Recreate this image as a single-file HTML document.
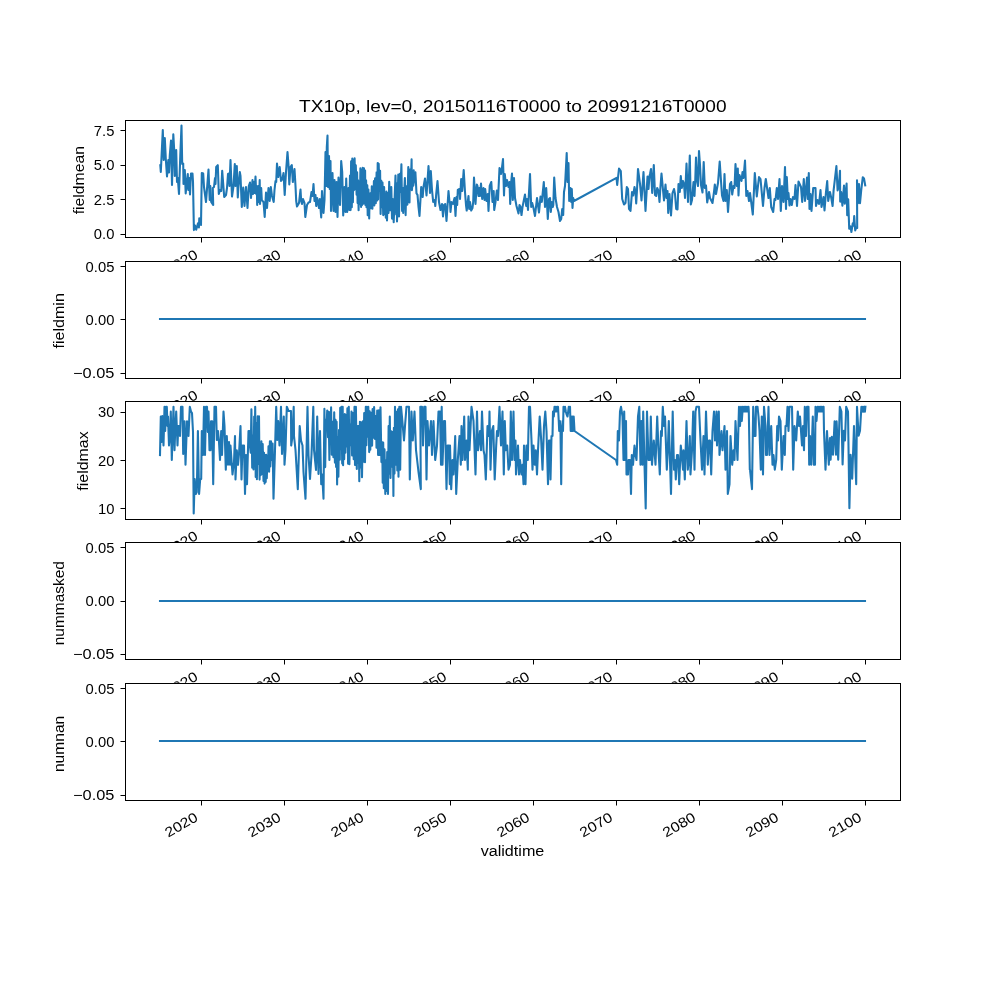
<!DOCTYPE html>
<html><head><meta charset="utf-8"><title>TX10p</title>
<style>html,body{margin:0;padding:0;background:#fff;width:1000px;height:1000px;overflow:hidden}svg{display:block;will-change:transform}svg text{font-family:"Liberation Sans",sans-serif;fill:#000}</style>
</head><body>
<svg width="1000" height="1000" viewBox="0 0 1000 1000">
<rect x="0" y="0" width="1000" height="1000" fill="#fff"/>
<rect x="125.0" y="120.00" width="775.0" height="117.24" fill="#fff"/>
<polyline points="160.3,165.2 160.8,172.0 162.8,130.0 163.7,160.0 164.8,138.0 165.8,159.0 167.0,176.5 168.3,160.0 169.0,172.5 169.8,155.0 171.0,140.5 172.0,185.0 173.3,134.2 174.3,152.0 174.8,176.0 176.2,150.0 177.0,182.0 177.8,178.0 179.0,194.0 180.3,155.0 181.5,125.5 182.2,164.0 183.2,163.5 183.5,184.0 184.8,170.0 185.7,193.5 186.8,182.0 187.8,174.0 188.3,190.0 189.2,178.0 190.0,194.5 191.0,173.5 192.5,173.5 193.0,182.0 193.9,230.1 195.0,225.6 196.2,229.8 198.0,223.2 198.9,227.4 199.3,218.4 201.0,225.0 201.8,173.0 203.2,173.5 204.0,187.0 206.0,202.0 208.5,169.5 209.7,200.0 210.3,186.0 211.2,202.0 213.2,205.0 212.8,188.0 214.0,187.0 215.0,178.0 215.5,184.0 216.2,167.0 217.8,165.2 218.8,194.0 220.0,190.0 221.2,191.0 222.2,170.8 224.2,197.0 226.0,195.0 227.0,188.0 228.0,174.0 229.0,173.5 229.5,186.0 230.5,160.0 231.2,178.0 232.0,196.5 233.5,186.0 234.8,164.0 235.5,186.0 236.8,166.0 237.8,197.5 238.5,186.0 239.8,172.0 240.5,176.0 241.8,207.0 243.2,187.5 244.5,206.0 246.0,187.0 247.5,208.0 248.8,186.0 250.0,182.5 250.0,183.0 251.0,198.0 252.5,180.0 253.0,194.0 253.8,182.0 254.5,193.0 255.5,176.5 256.2,194.0 256.8,186.0 257.2,205.0 258.5,186.0 259.0,202.0 259.7,180.0 260.0,204.0 261.2,188.0 261.8,200.0 262.5,201.0 263.5,202.0 264.7,217.0 266.0,192.5 267.0,208.0 268.5,188.0 269.7,201.0 270.8,187.0 272.0,196.0 273.7,202.0 274.5,190.0 275.5,181.0 276.2,182.0 277.0,163.5 278.2,177.0 279.7,167.0 281.0,181.0 282.5,179.0 283.5,173.0 284.7,195.0 286.0,172.0 287.5,152.0 288.5,165.0 289.3,184.5 290.5,167.0 291.8,165.0 292.8,182.0 294.5,169.0 295.5,186.0 296.2,201.0 297.0,206.5 299.0,203.0 300.5,189.5 301.2,201.0 302.0,204.0 303.0,199.0 304.5,203.0 305.3,217.0 307.0,205.0 308.5,202.5 310.0,202.0 311.5,192.0 312.5,196.0 313.5,184.0 314.5,201.0 315.5,195.0 316.2,206.0 317.2,198.0 319.0,208.0 319.8,199.0 321.2,217.5 322.0,191.0 323.5,213.0 324.5,200.0 325.5,152.0 326.2,186.0 326.8,147.0 327.5,135.5 328.0,187.0 329.0,156.0 329.7,189.0 330.5,161.0 331.0,211.0 332.5,173.0 333.5,211.0 334.5,180.0 335.5,212.0 336.5,182.0 337.5,217.0 338.5,177.5 340.0,205.0 341.2,161.0 342.2,172.0 343.2,215.5 344.5,187.0 345.5,212.0 346.2,178.5 347.2,212.0 348.5,188.0 349.3,210.0 350.0,175.6 350.6,210.1 351.1,161.4 351.8,207.3 352.3,158.6 352.9,202.2 353.4,160.1 353.9,190.2 354.6,158.3 355.3,189.1 355.8,165.2 356.6,194.7 357.1,172.3 357.6,203.1 358.1,180.3 358.6,210.3 359.1,181.5 359.9,204.3 360.4,168.2 361.1,206.9 361.5,170.6 362.1,204.9 362.7,167.7 363.5,203.6 364.0,168.4 364.4,203.3 365.1,170.5 365.4,205.0 366.1,180.4 366.5,207.2 367.3,185.4 367.7,215.3 368.4,189.5 369.2,218.5 369.6,194.1 370.0,207.3 370.4,193.2 371.1,208.1 371.8,186.2 372.4,208.7 372.8,187.9 373.4,205.3 373.9,181.1 374.3,205.5 375.1,178.2 375.8,203.2 376.6,172.2 377.3,200.5 377.7,163.1 378.1,199.3 378.7,163.9 379.4,190.8 380.1,170.8 380.6,214.0 381.3,180.7 381.7,207.2 382.5,182.5 383.2,215.1 384.1,187.1 384.8,214.3 385.2,194.1 385.8,217.6 386.4,191.6 387.0,220.4 387.8,193.1 388.5,213.0 389.2,181.8 390.2,210.2 391.3,187.1 392.0,218.6 392.7,199.0 393.7,222.1 395.5,175.5 396.2,214.4 396.8,183.6 397.0,221.4 398.3,174.5 399.0,216.5 400.0,173.8 400.4,192.0 401.4,164.3 402.1,210.9 402.5,187.8 403.2,213.0 404.9,178.0 405.6,215.1 406.3,186.4 407.4,204.6 408.3,167.1 409.5,202.5 410.0,169.6 410.7,189.5 411.6,159.4 411.9,190.2 413.7,170.3 413.3,185.7 415.4,172.4 416.5,193.4 417.5,194.8 418.5,207.0 419.5,216.0 421.2,187.0 422.7,197.0 423.5,187.0 425.0,178.5 426.5,195.5 428.5,166.0 430.0,193.0 430.8,171.0 432.0,190.0 433.2,202.0 434.5,200.0 435.3,206.0 436.2,194.0 437.5,181.0 439.0,202.0 440.5,210.0 442.0,204.0 443.0,216.5 444.0,205.0 445.2,204.0 446.5,221.0 448.5,191.0 449.5,202.0 450.0,202.0 450.5,212.0 451.5,202.0 453.0,204.0 454.5,198.0 455.5,216.0 456.5,197.0 457.2,205.0 457.8,190.0 459.5,189.0 460.0,199.0 461.2,179.0 462.2,191.0 463.7,170.0 465.0,192.0 466.0,205.0 466.7,210.5 468.5,196.0 469.2,209.0 470.0,202.0 471.2,210.5 472.5,208.0 473.2,202.0 474.0,177.5 475.5,204.0 476.8,184.5 477.5,186.0 478.5,196.0 479.2,188.0 480.0,196.0 481.0,183.5 482.2,199.0 483.5,188.0 484.5,200.0 485.2,189.0 486.5,201.0 487.8,194.0 488.5,211.0 489.7,186.0 491.3,182.0 492.5,202.0 493.7,191.0 494.2,210.0 495.5,202.0 496.8,190.5 498.0,200.0 499.5,168.0 501.0,174.0 501.8,169.0 503.0,159.0 504.0,195.5 504.8,174.0 506.0,186.0 507.0,180.0 508.5,187.0 509.5,182.0 510.2,204.0 511.2,182.0 512.0,173.5 512.8,200.0 514.0,178.0 515.0,198.0 516.5,206.0 518.5,213.5 519.5,205.0 520.5,207.0 521.5,215.0 522.5,207.0 523.5,202.0 525.0,194.5 526.2,206.0 527.0,199.0 528.0,210.0 530.0,174.0 531.2,207.0 532.2,203.0 533.5,208.0 535.0,216.0 537.0,198.0 539.0,212.5 540.5,196.5 541.8,202.0 543.8,182.0 545.0,207.0 546.2,188.0 547.8,219.0 549.0,199.0 550.0,198.0 550.8,212.0 551.8,202.0 552.8,207.0 553.3,205.0 554.2,177.5 555.5,198.0 557.0,207.0 558.5,212.0 560.0,221.0 561.2,219.0 562.2,209.0 563.2,215.0 564.0,192.0 565.0,186.0 566.0,167.0 566.7,153.0 567.5,182.0 568.5,163.0 569.2,201.0 570.5,188.0 571.2,202.0 571.8,189.0 572.5,208.0 573.2,198.0 574.0,201.0 616.5,177.8 617.2,185.0 619.0,168.5 620.8,171.0 622.2,199.0 624.0,204.5 625.5,203.0 626.8,187.0 628.0,189.0 629.0,209.0 630.5,211.0 632.0,192.0 633.2,195.5 634.5,187.0 635.5,192.0 636.2,203.5 637.0,190.0 638.0,169.0 640.0,184.0 641.5,200.5 643.5,172.0 645.5,211.0 647.5,176.5 648.5,189.0 649.5,176.0 650.0,174.0 651.0,169.0 652.2,193.0 653.8,165.0 655.0,195.0 656.2,196.0 657.2,188.0 658.5,191.0 659.5,202.0 660.5,186.0 661.5,173.5 663.0,190.0 664.0,200.5 665.5,184.5 666.5,198.0 667.5,191.0 668.2,213.0 669.5,194.0 671.0,215.5 672.5,193.0 674.0,189.0 675.0,194.0 676.2,209.0 677.5,209.5 678.5,184.0 679.8,192.0 680.8,176.0 681.8,188.0 683.0,181.0 684.0,184.0 685.0,198.0 686.5,163.5 688.0,202.0 689.8,155.5 690.8,204.5 692.0,200.0 693.5,182.0 694.5,196.0 695.2,182.0 696.0,157.5 697.0,180.0 698.0,186.0 699.0,151.0 700.0,165.0 701.0,185.0 702.5,192.5 703.7,162.0 704.8,188.0 706.0,185.5 707.2,202.5 709.0,192.0 710.0,198.0 712.5,203.0 714.0,192.0 714.8,184.5 716.0,194.0 718.0,183.0 719.7,161.5 721.2,184.0 722.0,195.5 723.5,201.0 724.5,174.0 725.5,201.0 726.8,190.0 728.0,212.0 730.0,184.0 731.2,182.0 732.2,194.5 733.5,186.0 734.5,188.0 735.5,164.0 736.8,186.0 737.8,168.5 738.5,195.5 739.5,175.0 741.5,181.0 742.5,172.0 743.5,178.0 745.0,160.5 746.3,196.0 747.5,191.0 749.0,201.0 750.0,193.0 751.2,202.0 752.8,214.5 754.8,173.0 756.8,196.5 759.0,177.0 760.5,179.0 763.0,206.0 764.5,188.0 765.8,179.0 767.5,191.0 768.5,198.0 769.8,188.0 771.2,207.0 773.2,212.0 774.5,199.0 775.5,200.0 776.8,188.0 778.0,199.0 779.5,179.0 780.8,211.0 782.0,186.0 783.5,202.0 785.0,167.0 786.0,209.0 786.8,177.0 787.8,199.0 788.5,193.0 789.5,205.5 790.5,199.0 791.8,205.0 793.0,197.0 794.5,199.0 795.5,185.0 797.0,206.0 798.5,181.5 801.0,187.0 802.2,202.0 803.8,179.0 805.0,201.0 807.0,177.5 807.8,199.0 808.8,173.0 809.5,209.0 810.5,194.0 811.5,211.0 813.2,188.0 815.5,188.0 816.0,206.0 817.5,200.0 819.0,204.0 820.5,190.0 821.5,207.0 823.5,197.0 824.5,210.5 826.0,192.0 827.2,181.0 828.2,201.0 829.8,192.0 830.0,192.0 831.2,197.6 832.6,206.0 833.6,190.4 834.8,180.0 836.4,166.0 837.6,190.4 838.8,186.4 840.0,170.8 840.2,201.6 841.2,192.0 842.4,205.6 844.0,185.6 844.8,203.6 846.6,183.6 847.2,215.2 848.2,199.2 849.2,228.8 850.4,226.4 851.4,232.0 852.8,223.2 853.6,225.6 854.2,216.0 855.2,230.4 856.4,227.2 857.2,228.0 857.0,180.4 858.0,203.2 859.0,184.0 860.0,203.2 861.2,190.4 862.8,177.2 864.0,178.4 865.2,185.4" fill="none" stroke="#1f77b4" stroke-width="2.08" stroke-linejoin="round" stroke-linecap="square"/>
<path d="M125.5 120.5H900.5V237.5H125.5Z" fill="none" stroke="#000" stroke-width="1" shape-rendering="crispEdges"/>
<path d="M201.5 237.5v5M284.5 237.5v5M367.5 237.5v5M450.5 237.5v5M533.5 237.5v5M616.5 237.5v5M699.5 237.5v5M782.5 237.5v5M865.5 237.5v5M125.5 130.5h-5M125.5 165.5h-5M125.5 199.5h-5M125.5 234.5h-5" fill="none" stroke="#000" stroke-width="1"/>
<text x="114.40" y="135.50" font-size="13.89" text-anchor="end" textLength="20.54" lengthAdjust="spacingAndGlyphs">7.5</text>
<text x="114.40" y="170.13" font-size="13.89" text-anchor="end" textLength="20.54" lengthAdjust="spacingAndGlyphs">5.0</text>
<text x="114.40" y="204.76" font-size="13.89" text-anchor="end" textLength="20.54" lengthAdjust="spacingAndGlyphs">2.5</text>
<text x="114.40" y="239.39" font-size="13.89" text-anchor="end" textLength="20.54" lengthAdjust="spacingAndGlyphs">0.0</text>
<text x="84.50" y="180.12" font-size="13.89" text-anchor="middle" textLength="68.32" lengthAdjust="spacingAndGlyphs" transform="rotate(-90 84.50 180.12)">fieldmean</text>
<text x="198.88" y="257.24" font-size="13.89" text-anchor="end" textLength="35.35" lengthAdjust="spacingAndGlyphs" transform="rotate(-30 198.88 257.24)">2020</text>
<text x="281.85" y="257.24" font-size="13.89" text-anchor="end" textLength="35.35" lengthAdjust="spacingAndGlyphs" transform="rotate(-30 281.85 257.24)">2030</text>
<text x="364.82" y="257.24" font-size="13.89" text-anchor="end" textLength="35.35" lengthAdjust="spacingAndGlyphs" transform="rotate(-30 364.82 257.24)">2040</text>
<text x="447.79" y="257.24" font-size="13.89" text-anchor="end" textLength="35.35" lengthAdjust="spacingAndGlyphs" transform="rotate(-30 447.79 257.24)">2050</text>
<text x="530.76" y="257.24" font-size="13.89" text-anchor="end" textLength="35.35" lengthAdjust="spacingAndGlyphs" transform="rotate(-30 530.76 257.24)">2060</text>
<text x="613.73" y="257.24" font-size="13.89" text-anchor="end" textLength="35.35" lengthAdjust="spacingAndGlyphs" transform="rotate(-30 613.73 257.24)">2070</text>
<text x="696.70" y="257.24" font-size="13.89" text-anchor="end" textLength="35.35" lengthAdjust="spacingAndGlyphs" transform="rotate(-30 696.70 257.24)">2080</text>
<text x="779.67" y="257.24" font-size="13.89" text-anchor="end" textLength="35.35" lengthAdjust="spacingAndGlyphs" transform="rotate(-30 779.67 257.24)">2090</text>
<text x="862.64" y="257.24" font-size="13.89" text-anchor="end" textLength="35.35" lengthAdjust="spacingAndGlyphs" transform="rotate(-30 862.64 257.24)">2100</text>
<rect x="125.0" y="260.69" width="775.0" height="117.24" fill="#fff"/>
<path d="M160 319H865" fill="none" stroke="#1f77b4" stroke-width="2.08" stroke-linecap="square"/>
<path d="M125.5 261.5H900.5V378.5H125.5Z" fill="none" stroke="#000" stroke-width="1" shape-rendering="crispEdges"/>
<path d="M201.5 378.5v5M284.5 378.5v5M367.5 378.5v5M450.5 378.5v5M533.5 378.5v5M616.5 378.5v5M699.5 378.5v5M782.5 378.5v5M865.5 378.5v5M125.5 266.5h-5M125.5 319.5h-5M125.5 373.5h-5" fill="none" stroke="#000" stroke-width="1"/>
<text x="114.40" y="271.52" font-size="13.89" text-anchor="end" textLength="28.76" lengthAdjust="spacingAndGlyphs">0.05</text>
<text x="114.40" y="324.81" font-size="13.89" text-anchor="end" textLength="28.76" lengthAdjust="spacingAndGlyphs">0.00</text>
<text x="114.40" y="378.10" font-size="13.89" text-anchor="end" textLength="41.37" lengthAdjust="spacingAndGlyphs">−0.05</text>
<text x="63.70" y="320.81" font-size="13.89" text-anchor="middle" textLength="55.32" lengthAdjust="spacingAndGlyphs" transform="rotate(-90 63.70 320.81)">fieldmin</text>
<text x="198.88" y="397.93" font-size="13.89" text-anchor="end" textLength="35.35" lengthAdjust="spacingAndGlyphs" transform="rotate(-30 198.88 397.93)">2020</text>
<text x="281.85" y="397.93" font-size="13.89" text-anchor="end" textLength="35.35" lengthAdjust="spacingAndGlyphs" transform="rotate(-30 281.85 397.93)">2030</text>
<text x="364.82" y="397.93" font-size="13.89" text-anchor="end" textLength="35.35" lengthAdjust="spacingAndGlyphs" transform="rotate(-30 364.82 397.93)">2040</text>
<text x="447.79" y="397.93" font-size="13.89" text-anchor="end" textLength="35.35" lengthAdjust="spacingAndGlyphs" transform="rotate(-30 447.79 397.93)">2050</text>
<text x="530.76" y="397.93" font-size="13.89" text-anchor="end" textLength="35.35" lengthAdjust="spacingAndGlyphs" transform="rotate(-30 530.76 397.93)">2060</text>
<text x="613.73" y="397.93" font-size="13.89" text-anchor="end" textLength="35.35" lengthAdjust="spacingAndGlyphs" transform="rotate(-30 613.73 397.93)">2070</text>
<text x="696.70" y="397.93" font-size="13.89" text-anchor="end" textLength="35.35" lengthAdjust="spacingAndGlyphs" transform="rotate(-30 696.70 397.93)">2080</text>
<text x="779.67" y="397.93" font-size="13.89" text-anchor="end" textLength="35.35" lengthAdjust="spacingAndGlyphs" transform="rotate(-30 779.67 397.93)">2090</text>
<text x="862.64" y="397.93" font-size="13.89" text-anchor="end" textLength="35.35" lengthAdjust="spacingAndGlyphs" transform="rotate(-30 862.64 397.93)">2100</text>
<rect x="125.0" y="401.38" width="775.0" height="117.24" fill="#fff"/>
<polyline points="160.0,455.1 160.8,416.5 161.5,442.0 162.3,416.0 163.5,445.5 164.5,406.7 165.2,431.0 166.0,406.7 166.8,406.7 167.5,426.0 168.0,416.5 169.0,445.5 170.0,436.0 170.8,411.5 171.8,460.0 173.5,406.7 174.5,450.3 175.2,431.0 176.2,411.5 177.5,445.5 178.3,426.0 179.5,426.0 180.0,436.0 181.0,406.7 182.5,406.7 183.2,454.0 184.5,421.2 185.5,464.8 187.0,421.2 188.5,436.0 189.8,406.7 191.0,411.5 192.0,413.0 193.0,432.0 193.7,513.4 194.7,479.0 195.8,494.0 196.8,492.0 197.9,431.0 199.1,494.0 200.2,479.0 201.2,479.0 201.8,431.0 203.0,455.0 204.0,406.7 205.0,455.0 206.0,406.7 207.0,406.7 207.8,432.0 208.5,411.5 209.5,450.3 210.5,450.3 211.0,421.2 212.2,421.2 213.2,484.2 214.5,406.7 216.0,406.7 216.8,440.0 218.0,431.0 219.0,442.0 220.0,460.0 221.2,431.0 222.0,455.0 223.5,411.5 224.5,426.0 225.8,469.7 226.8,436.0 228.0,464.8 229.0,442.0 230.0,464.8 230.5,445.5 232.5,474.5 234.0,462.0 235.0,436.0 235.5,479.4 236.8,450.3 238.0,464.8 239.0,454.0 240.5,426.0 241.5,479.4 242.5,445.5 244.0,445.5 245.0,493.9 246.0,455.0 247.0,484.2 248.5,431.0 249.5,431.0 250.0,446.5 250.7,452.7 251.4,409.3 252.2,467.7 252.7,435.2 253.5,469.4 254.2,416.6 254.6,455.7 255.2,406.8 255.7,477.0 256.4,423.5 256.9,479.3 257.7,416.4 258.3,464.0 259.0,416.4 259.6,479.6 260.0,446.1 260.8,475.1 261.4,441.2 262.0,473.9 262.7,444.1 263.5,481.0 264.0,452.7 264.6,483.6 264.9,454.8 265.7,482.0 266.2,454.8 266.8,478.2 267.5,456.0 268.1,467.7 268.5,446.3 269.1,471.7 269.9,441.4 270.3,466.5 271.0,441.3 271.8,459.9 272.6,443.6 273.5,498.8 275.0,450.0 276.2,406.7 277.2,440.0 278.2,421.0 279.5,445.5 281.0,406.7 282.0,454.0 283.8,416.5 284.5,464.8 285.5,450.0 286.8,406.7 288.5,411.0 291.0,411.0 291.2,445.5 292.5,436.0 293.7,406.7 294.0,436.0 295.5,450.0 297.8,489.1 299.7,426.0 301.0,440.5 302.5,445.5 303.5,472.0 305.5,498.8 307.5,406.7 308.5,455.0 310.0,479.0 311.5,455.0 313.3,406.7 314.0,450.0 316.0,470.0 317.2,416.5 318.5,474.0 320.0,431.0 321.2,484.2 322.2,474.5 323.5,498.8 324.4,408.7 325.2,467.1 325.9,419.6 326.6,426.1 327.2,410.6 328.0,437.2 328.6,411.9 329.4,459.9 329.9,412.3 330.5,442.3 331.1,407.4 331.8,454.8 332.6,421.8 333.4,457.3 334.2,412.3 334.9,462.6 335.5,419.7 336.1,466.9 336.6,421.8 337.1,484.5 337.8,437.4 338.4,476.8 339.0,430.1 339.8,459.8 340.2,407.9 341.0,449.2 341.5,406.8 342.2,463.6 342.7,406.8 343.1,465.2 343.6,416.4 344.2,459.3 344.8,414.1 345.4,452.8 346.1,415.4 346.8,446.5 347.4,408.3 348.1,463.7 348.8,406.8 349.4,464.3 350.0,424.8 350.7,445.1 351.5,411.5 352.1,455.5 353.0,413.0 353.7,459.2 354.5,406.7 355.0,465.0 355.9,406.7 356.8,469.0 357.3,426.0 358.1,463.0 358.6,426.0 359.3,481.2 359.9,421.7 360.6,467.5 361.1,422.4 362.0,477.3 362.9,421.2 363.4,461.7 364.2,413.1 365.0,462.2 365.8,406.7 366.4,445.2 366.9,406.7 367.6,436.8 368.3,406.8 369.2,452.1 369.7,411.3 370.3,449.7 371.2,412.8 372.1,445.6 372.6,409.0 373.2,437.8 374.1,407.0 375.0,439.0 375.9,416.0 376.5,447.8 377.2,410.5 378.1,455.0 378.9,410.2 379.6,455.0 380.5,407.3 381.4,462.1 382.2,442.2 382.7,482.7 383.2,442.5 383.8,488.2 384.5,449.2 385.3,493.9 385.9,460.5 386.6,490.9 387.2,452.0 388.0,493.9 388.6,426.0 389.1,473.6 389.8,416.5 390.5,477.9 391.3,431.3 392.1,466.8 392.8,432.1 393.4,496.0 393.9,427.7 394.5,473.6 395.0,406.7 395.9,464.8 396.6,411.9 397.3,470.4 398.0,409.4 398.5,476.8 399.3,406.7 400.2,469.7 401.0,406.7 402.0,417.0 404.0,440.5 405.0,426.0 406.5,406.7 409.0,406.7 409.8,479.4 411.5,411.5 412.8,440.5 414.5,411.5 416.0,450.0 418.5,472.0 420.8,489.1 420.3,406.7 422.0,406.7 423.0,445.5 424.2,406.7 425.5,406.7 426.5,479.4 427.5,421.0 429.0,445.5 431.0,421.0 432.0,455.0 433.5,421.0 435.2,460.0 437.0,445.5 438.5,411.5 440.0,411.5 441.0,464.8 441.7,406.7 442.5,464.8 444.0,421.0 445.0,421.0 446.5,489.1 447.5,445.5 449.0,445.5 449.8,484.2 450.0,445.5 451.2,489.1 452.5,460.0 453.5,474.5 455.2,436.0 456.2,493.9 457.8,460.0 459.5,436.0 460.8,464.8 461.5,426.0 462.5,460.0 464.2,416.5 465.0,460.0 466.5,440.5 467.8,469.7 468.5,416.5 469.5,450.3 471.5,406.7 473.5,421.0 475.5,474.5 477.0,411.5 478.0,450.3 480.0,431.0 481.0,450.3 482.0,411.5 483.5,450.3 484.5,455.0 485.8,479.4 487.5,426.0 489.0,436.0 489.5,411.5 490.5,469.7 491.8,431.0 493.3,426.0 494.7,479.4 496.2,445.5 497.0,431.0 498.0,436.0 499.5,406.7 501.0,445.5 502.5,411.5 503.8,474.5 504.8,421.0 505.8,450.3 507.2,445.5 508.5,469.7 510.0,464.8 510.8,411.5 512.0,460.0 513.5,411.5 514.5,460.0 515.5,440.5 516.0,474.5 518.0,445.5 519.0,474.5 520.0,460.0 521.5,474.5 522.5,464.8 523.5,484.2 524.0,445.5 525.5,484.2 526.5,445.5 527.8,460.0 529.0,406.7 530.0,406.7 531.5,440.5 532.5,469.7 533.5,445.5 534.8,464.8 535.8,450.3 537.0,474.5 538.0,450.3 539.7,416.5 541.2,440.5 542.5,469.7 544.0,426.0 545.3,411.5 546.5,431.0 548.0,484.2 549.0,440.5 550.0,440.5 550.5,479.4 551.5,436.0 552.5,436.0 553.0,411.5 553.8,416.5 554.5,406.7 555.2,411.5 555.8,406.7 556.5,411.5 557.2,406.7 558.0,406.7 558.8,422.0 559.2,431.0 559.9,421.0 560.5,431.0 561.2,484.2 561.9,431.0 562.6,421.0 563.0,431.0 563.5,406.7 564.2,411.5 565.0,406.7 565.8,411.5 566.5,414.0 567.5,416.5 568.2,411.5 568.8,406.7 569.5,411.5 570.0,406.7 570.7,431.0 571.3,416.5 571.9,431.0 572.5,416.5 573.1,431.0 573.7,416.5 574.5,431.0 616.0,460.0 617.2,464.8 617.8,431.0 619.0,440.5 620.0,411.5 621.0,406.7 622.5,416.5 623.5,460.0 624.2,411.5 625.0,460.0 626.0,421.0 626.5,474.5 628.0,474.5 628.5,460.0 630.0,460.0 631.0,493.9 631.8,455.0 633.0,464.8 634.5,445.5 635.5,455.0 636.5,460.0 638.0,416.5 639.3,406.7 640.5,464.8 641.5,421.0 642.5,464.8 643.2,411.5 644.5,464.8 645.7,508.5 647.0,411.5 648.5,460.0 649.5,460.0 650.0,460.0 650.8,416.5 652.0,464.8 653.8,440.5 655.5,464.8 657.2,416.5 658.5,450.3 659.8,474.5 661.0,431.0 661.8,436.0 662.8,406.7 664.0,426.0 665.0,416.5 666.8,469.7 667.8,450.3 668.8,421.0 671.0,493.9 672.7,411.5 674.0,469.7 675.0,460.0 675.8,479.4 677.0,455.0 678.0,455.0 679.2,484.2 680.8,445.5 681.8,455.0 683.0,469.7 683.5,450.3 684.8,479.4 686.5,421.0 687.8,469.7 688.8,460.0 689.8,436.0 690.5,474.5 692.0,450.3 693.2,411.5 694.5,469.7 695.5,411.5 696.5,406.7 699.0,406.7 700.5,440.5 702.0,469.7 703.5,436.0 704.5,474.5 706.0,411.5 707.8,464.8 709.0,440.5 710.0,440.5 711.2,474.5 712.5,431.0 714.0,411.5 715.0,440.5 716.5,411.5 717.0,445.5 718.8,411.5 719.5,455.0 721.5,431.0 722.5,450.3 724.5,426.0 725.5,469.7 727.0,431.0 727.8,493.9 729.5,484.2 730.5,436.0 732.2,464.8 733.5,450.3 734.5,460.0 735.5,421.0 737.5,460.0 739.0,406.7 740.0,426.0 741.0,406.7 741.8,421.0 742.8,406.7 743.5,411.5 744.2,406.7 744.9,411.5 745.6,406.7 746.3,411.5 747.0,406.7 747.7,411.5 748.5,406.7 748.8,411.5 749.8,469.7 750.0,469.7 752.0,489.1 753.2,406.7 754.5,436.0 755.5,436.0 756.0,406.7 757.5,406.7 758.5,416.5 759.5,431.0 760.8,469.7 761.8,416.5 763.0,474.5 764.0,406.7 765.5,426.0 766.0,455.0 767.0,455.0 768.5,406.7 769.5,455.0 771.2,426.0 772.5,464.8 773.5,455.0 774.8,469.7 776.2,460.0 777.2,426.0 778.0,440.5 779.0,416.5 780.5,421.0 781.8,469.7 783.5,436.0 784.8,455.0 785.5,426.0 786.5,426.0 787.5,406.7 788.5,431.0 789.5,406.7 792.0,406.7 793.2,469.7 794.5,426.0 796.2,440.5 797.8,411.5 799.0,426.0 800.0,416.5 802.0,445.5 803.0,426.0 804.0,450.3 804.8,406.7 806.0,436.0 807.0,406.7 808.5,406.7 809.2,464.8 810.0,436.0 811.2,464.8 812.8,416.5 813.8,464.8 815.0,464.8 815.5,406.7 816.5,421.0 817.5,406.7 818.2,411.5 818.9,406.7 819.6,411.5 820.3,406.7 821.0,411.5 821.7,406.7 822.4,411.5 823.1,406.7 823.6,406.7 824.0,431.0 825.5,469.7 827.0,431.0 828.8,464.8 829.8,440.5 830.0,438.0 830.6,459.6 831.8,436.8 833.0,454.8 834.6,421.2 836.0,454.8 836.6,421.2 838.2,459.6 839.8,406.8 841.4,411.6 842.6,464.4 843.8,430.8 845.0,440.4 846.2,406.8 848.0,411.6 849.4,508.2 850.6,454.8 852.2,478.8 854.0,426.0 856.2,484.2 857.0,406.8 858.6,435.6 860.0,430.8 861.4,406.8 862.2,411.6 862.9,406.8 863.6,411.6 864.3,406.8 864.9,411.6 865.4,406.8" fill="none" stroke="#1f77b4" stroke-width="2.08" stroke-linejoin="round" stroke-linecap="square"/>
<path d="M125.5 401.5H900.5V519.5H125.5Z" fill="none" stroke="#000" stroke-width="1" shape-rendering="crispEdges"/>
<path d="M201.5 519.5v5M284.5 519.5v5M367.5 519.5v5M450.5 519.5v5M533.5 519.5v5M616.5 519.5v5M699.5 519.5v5M782.5 519.5v5M865.5 519.5v5M125.5 412.5h-5M125.5 460.5h-5M125.5 508.5h-5" fill="none" stroke="#000" stroke-width="1"/>
<text x="114.40" y="417.06" font-size="13.89" text-anchor="end" textLength="16.44" lengthAdjust="spacingAndGlyphs">30</text>
<text x="114.40" y="465.51" font-size="13.89" text-anchor="end" textLength="16.44" lengthAdjust="spacingAndGlyphs">20</text>
<text x="114.40" y="513.96" font-size="13.89" text-anchor="end" textLength="16.44" lengthAdjust="spacingAndGlyphs">10</text>
<text x="87.50" y="461.00" font-size="13.89" text-anchor="middle" textLength="59.33" lengthAdjust="spacingAndGlyphs" transform="rotate(-90 87.50 461.00)">fieldmax</text>
<text x="198.88" y="538.62" font-size="13.89" text-anchor="end" textLength="35.35" lengthAdjust="spacingAndGlyphs" transform="rotate(-30 198.88 538.62)">2020</text>
<text x="281.85" y="538.62" font-size="13.89" text-anchor="end" textLength="35.35" lengthAdjust="spacingAndGlyphs" transform="rotate(-30 281.85 538.62)">2030</text>
<text x="364.82" y="538.62" font-size="13.89" text-anchor="end" textLength="35.35" lengthAdjust="spacingAndGlyphs" transform="rotate(-30 364.82 538.62)">2040</text>
<text x="447.79" y="538.62" font-size="13.89" text-anchor="end" textLength="35.35" lengthAdjust="spacingAndGlyphs" transform="rotate(-30 447.79 538.62)">2050</text>
<text x="530.76" y="538.62" font-size="13.89" text-anchor="end" textLength="35.35" lengthAdjust="spacingAndGlyphs" transform="rotate(-30 530.76 538.62)">2060</text>
<text x="613.73" y="538.62" font-size="13.89" text-anchor="end" textLength="35.35" lengthAdjust="spacingAndGlyphs" transform="rotate(-30 613.73 538.62)">2070</text>
<text x="696.70" y="538.62" font-size="13.89" text-anchor="end" textLength="35.35" lengthAdjust="spacingAndGlyphs" transform="rotate(-30 696.70 538.62)">2080</text>
<text x="779.67" y="538.62" font-size="13.89" text-anchor="end" textLength="35.35" lengthAdjust="spacingAndGlyphs" transform="rotate(-30 779.67 538.62)">2090</text>
<text x="862.64" y="538.62" font-size="13.89" text-anchor="end" textLength="35.35" lengthAdjust="spacingAndGlyphs" transform="rotate(-30 862.64 538.62)">2100</text>
<rect x="125.0" y="542.07" width="775.0" height="117.24" fill="#fff"/>
<path d="M160 601H865" fill="none" stroke="#1f77b4" stroke-width="2.08" stroke-linecap="square"/>
<path d="M125.5 542.5H900.5V659.5H125.5Z" fill="none" stroke="#000" stroke-width="1" shape-rendering="crispEdges"/>
<path d="M201.5 659.5v5M284.5 659.5v5M367.5 659.5v5M450.5 659.5v5M533.5 659.5v5M616.5 659.5v5M699.5 659.5v5M782.5 659.5v5M865.5 659.5v5M125.5 547.5h-5M125.5 601.5h-5M125.5 654.5h-5" fill="none" stroke="#000" stroke-width="1"/>
<text x="114.40" y="552.90" font-size="13.89" text-anchor="end" textLength="28.76" lengthAdjust="spacingAndGlyphs">0.05</text>
<text x="114.40" y="606.19" font-size="13.89" text-anchor="end" textLength="28.76" lengthAdjust="spacingAndGlyphs">0.00</text>
<text x="114.40" y="659.48" font-size="13.89" text-anchor="end" textLength="41.37" lengthAdjust="spacingAndGlyphs">−0.05</text>
<text x="64.30" y="603.19" font-size="13.89" text-anchor="middle" textLength="84.05" lengthAdjust="spacingAndGlyphs" transform="rotate(-90 64.30 603.19)">nummasked</text>
<text x="198.88" y="679.31" font-size="13.89" text-anchor="end" textLength="35.35" lengthAdjust="spacingAndGlyphs" transform="rotate(-30 198.88 679.31)">2020</text>
<text x="281.85" y="679.31" font-size="13.89" text-anchor="end" textLength="35.35" lengthAdjust="spacingAndGlyphs" transform="rotate(-30 281.85 679.31)">2030</text>
<text x="364.82" y="679.31" font-size="13.89" text-anchor="end" textLength="35.35" lengthAdjust="spacingAndGlyphs" transform="rotate(-30 364.82 679.31)">2040</text>
<text x="447.79" y="679.31" font-size="13.89" text-anchor="end" textLength="35.35" lengthAdjust="spacingAndGlyphs" transform="rotate(-30 447.79 679.31)">2050</text>
<text x="530.76" y="679.31" font-size="13.89" text-anchor="end" textLength="35.35" lengthAdjust="spacingAndGlyphs" transform="rotate(-30 530.76 679.31)">2060</text>
<text x="613.73" y="679.31" font-size="13.89" text-anchor="end" textLength="35.35" lengthAdjust="spacingAndGlyphs" transform="rotate(-30 613.73 679.31)">2070</text>
<text x="696.70" y="679.31" font-size="13.89" text-anchor="end" textLength="35.35" lengthAdjust="spacingAndGlyphs" transform="rotate(-30 696.70 679.31)">2080</text>
<text x="779.67" y="679.31" font-size="13.89" text-anchor="end" textLength="35.35" lengthAdjust="spacingAndGlyphs" transform="rotate(-30 779.67 679.31)">2090</text>
<text x="862.64" y="679.31" font-size="13.89" text-anchor="end" textLength="35.35" lengthAdjust="spacingAndGlyphs" transform="rotate(-30 862.64 679.31)">2100</text>
<rect x="125.0" y="682.76" width="775.0" height="117.24" fill="#fff"/>
<path d="M160 741H865" fill="none" stroke="#1f77b4" stroke-width="2.08" stroke-linecap="square"/>
<path d="M125.5 683.5H900.5V800.5H125.5Z" fill="none" stroke="#000" stroke-width="1" shape-rendering="crispEdges"/>
<path d="M201.5 800.5v5M284.5 800.5v5M367.5 800.5v5M450.5 800.5v5M533.5 800.5v5M616.5 800.5v5M699.5 800.5v5M782.5 800.5v5M865.5 800.5v5M125.5 688.5h-5M125.5 741.5h-5M125.5 795.5h-5" fill="none" stroke="#000" stroke-width="1"/>
<text x="114.40" y="693.59" font-size="13.89" text-anchor="end" textLength="28.76" lengthAdjust="spacingAndGlyphs">0.05</text>
<text x="114.40" y="746.88" font-size="13.89" text-anchor="end" textLength="28.76" lengthAdjust="spacingAndGlyphs">0.00</text>
<text x="114.40" y="800.17" font-size="13.89" text-anchor="end" textLength="41.37" lengthAdjust="spacingAndGlyphs">−0.05</text>
<text x="64.30" y="743.88" font-size="13.89" text-anchor="middle" textLength="56.39" lengthAdjust="spacingAndGlyphs" transform="rotate(-90 64.30 743.88)">numnan</text>
<text x="198.88" y="820.00" font-size="13.89" text-anchor="end" textLength="35.35" lengthAdjust="spacingAndGlyphs" transform="rotate(-30 198.88 820.00)">2020</text>
<text x="281.85" y="820.00" font-size="13.89" text-anchor="end" textLength="35.35" lengthAdjust="spacingAndGlyphs" transform="rotate(-30 281.85 820.00)">2030</text>
<text x="364.82" y="820.00" font-size="13.89" text-anchor="end" textLength="35.35" lengthAdjust="spacingAndGlyphs" transform="rotate(-30 364.82 820.00)">2040</text>
<text x="447.79" y="820.00" font-size="13.89" text-anchor="end" textLength="35.35" lengthAdjust="spacingAndGlyphs" transform="rotate(-30 447.79 820.00)">2050</text>
<text x="530.76" y="820.00" font-size="13.89" text-anchor="end" textLength="35.35" lengthAdjust="spacingAndGlyphs" transform="rotate(-30 530.76 820.00)">2060</text>
<text x="613.73" y="820.00" font-size="13.89" text-anchor="end" textLength="35.35" lengthAdjust="spacingAndGlyphs" transform="rotate(-30 613.73 820.00)">2070</text>
<text x="696.70" y="820.00" font-size="13.89" text-anchor="end" textLength="35.35" lengthAdjust="spacingAndGlyphs" transform="rotate(-30 696.70 820.00)">2080</text>
<text x="779.67" y="820.00" font-size="13.89" text-anchor="end" textLength="35.35" lengthAdjust="spacingAndGlyphs" transform="rotate(-30 779.67 820.00)">2090</text>
<text x="862.64" y="820.00" font-size="13.89" text-anchor="end" textLength="35.35" lengthAdjust="spacingAndGlyphs" transform="rotate(-30 862.64 820.00)">2100</text>
<text x="512.80" y="112.30" font-size="16.67" text-anchor="middle" textLength="427.44" lengthAdjust="spacingAndGlyphs">TX10p, lev=0, 20150116T0000 to 20991216T0000</text>
<text x="512.50" y="855.50" font-size="13.89" text-anchor="middle" textLength="63.68" lengthAdjust="spacingAndGlyphs">validtime</text>
</svg>
</body></html>
